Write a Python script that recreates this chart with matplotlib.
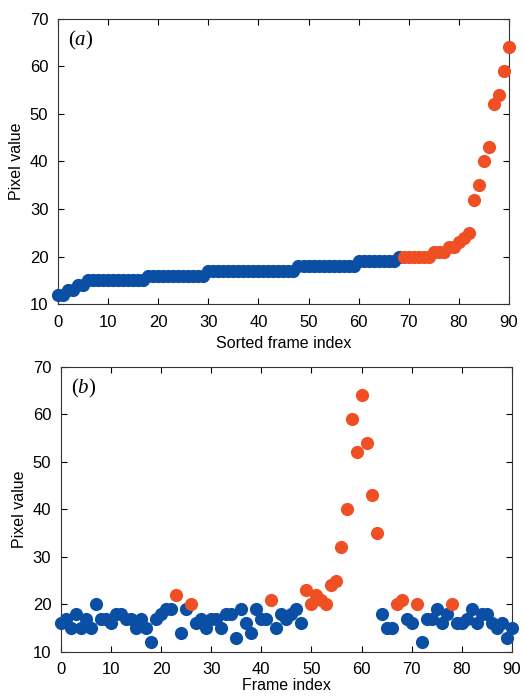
import numpy as np
import matplotlib
matplotlib.use("Agg")
import matplotlib.pyplot as plt

# Pixel value for each frame (frame index 0..90)
frame_index = list(range(91))
pixel_values = [
    16, 17, 15, 18, 15, 17, 15, 20, 17, 17,
    16, 18, 18, 17, 17, 15, 17, 15, 12, 17,
    18, 19, 19, 22, 14, 19, 20, 16, 17, 15,
    17, 17, 15, 18, 18, 13, 19, 16, 14, 19,
    17, 17, 21, 15, 18, 17, 18, 19, 16, 23,
    20, 22, 21, 20, 24, 25, 32, 40, 59, 52,
    64, 54, 43, 35, 18, 15, 15, 20, 21, 17,
    16, 20, 12, 17, 17, 19, 16, 18, 20, 16,
    16, 17, 19, 16, 18, 18, 16, 15, 16, 13,
    15,
]
n_highlight = 22  # number of highest-valued frames highlighted

xticks = [0, 10, 20, 30, 40, 50, 60, 70, 80, 90]
yticks = [10, 20, 30, 40, 50, 60, 70]

blue = "#0a4fa3"
orange = "#f04e23"

vals = np.array(pixel_values)
order = np.argsort(vals, kind="stable")
sorted_vals = vals[order]
n = len(vals)
is_high_sorted = np.arange(n) >= n - n_highlight
is_high = np.zeros(n, dtype=bool)
is_high[order[is_high_sorted]] = True

plt.rcParams["font.family"] = ["Liberation Sans", "DejaVu Sans"]
plt.rcParams["mathtext.fontset"] = "custom"
plt.rcParams["mathtext.rm"] = "Liberation Serif"
plt.rcParams["mathtext.it"] = "Liberation Serif:italic"

fig = plt.figure(figsize=(5.23, 6.97), dpi=100)
ax1 = fig.add_axes([0.111, 0.5638, 0.862, 0.409])
ax2 = fig.add_axes([0.1166, 0.0646, 0.862, 0.409])

ms = 90
x_sorted = np.arange(n)
ax1.scatter(x_sorted[~is_high_sorted], sorted_vals[~is_high_sorted], s=ms,
            color=blue, linewidths=0, clip_on=False, zorder=3)
ax1.scatter(x_sorted[is_high_sorted], sorted_vals[is_high_sorted], s=ms,
            color=orange, linewidths=0, clip_on=False, zorder=3)

fi = np.array(frame_index)
ax2.scatter(fi[~is_high], vals[~is_high], s=ms, color=blue, linewidths=0,
            clip_on=False, zorder=3)
ax2.scatter(fi[is_high], vals[is_high], s=ms, color=orange, linewidths=0,
            clip_on=False, zorder=3)

for ax, xl, lab, lp in [(ax1, "Sorted frame index", "a", 4),
                        (ax2, "Frame index", "b", 1)]:
    ax.set_xlim(0, 90)
    ax.set_ylim(10, 70)
    ax.set_xticks(xticks)
    ax.set_yticks(yticks)
    ax.tick_params(direction="in", top=True, right=True, length=4,
                   width=0.8, labelsize=12)
    ax.tick_params(axis="x", pad=8 if lab == "a" else 7)
    ax.tick_params(axis="y", pad=7)
    ax.set_xlabel(xl, fontsize=11.5, labelpad=lp)
    ax.set_ylabel("Pixel value", fontsize=11.5, labelpad=4)
    for sp in ax.spines.values():
        sp.set_linewidth(0.8)
        sp.set_color("#333333")
    ax.text(0.022, 0.925, r"$\mathrm{(}\mathit{%s}\mathrm{)}$" % lab,
            transform=ax.transAxes, fontsize=15, va="center", ha="left")

fig.savefig("out.png", dpi=100)
